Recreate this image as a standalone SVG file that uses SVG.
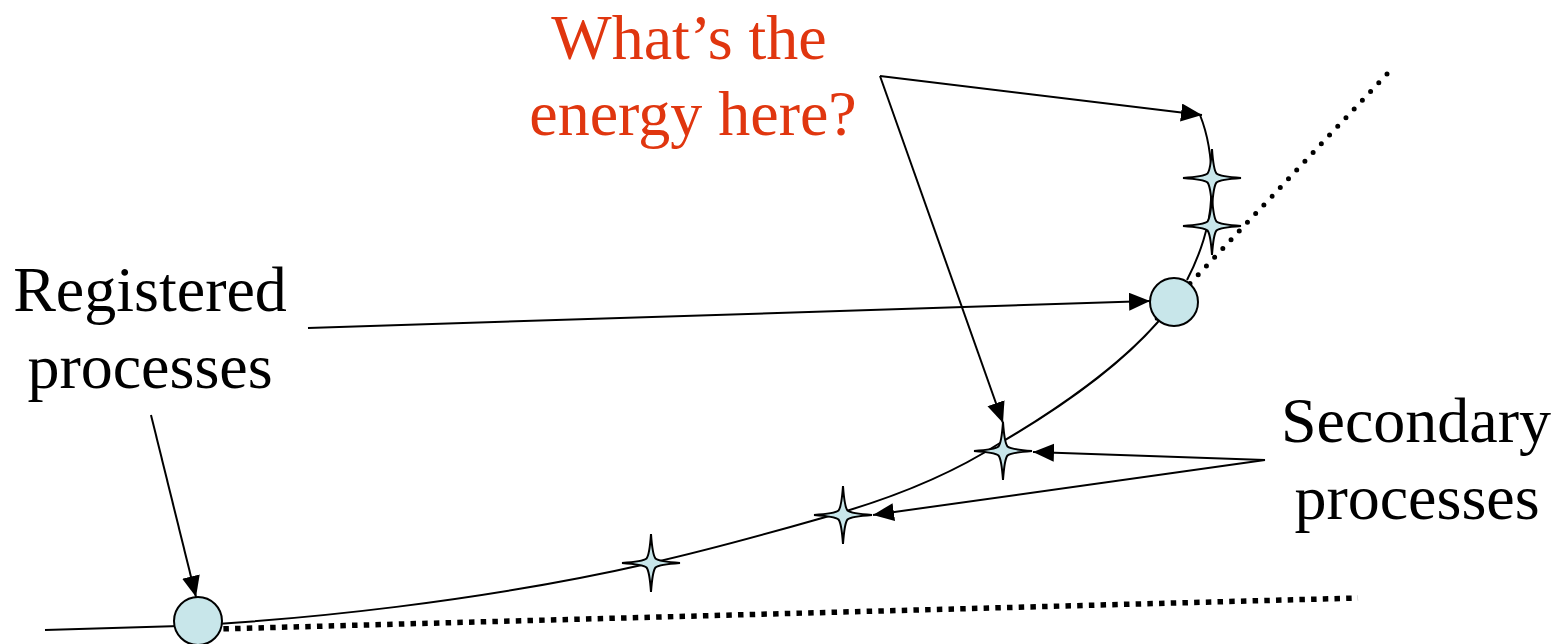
<svg xmlns="http://www.w3.org/2000/svg" width="1560" height="644" viewBox="0 0 1560 644">
<defs>
<style>
.lbl{font-family:"Liberation Serif","Times New Roman",serif;font-size:64px;text-anchor:middle;fill:#000}
.red{fill:#e0360f}
.curve{fill:none;stroke:#000;stroke-width:2}
.arrow{fill:none;stroke:#000;stroke-width:2;marker-end:url(#ah)}
.node{fill:#c8e6ea;stroke:#000;stroke-width:2}
.star{fill:#c8e6ea;stroke:#000;stroke-width:2;stroke-linejoin:miter}
</style>
<marker id="ah" markerUnits="userSpaceOnUse" markerWidth="22" markerHeight="20" refX="21" refY="9" orient="auto">
<path d="M0,0 L21,9 L0,18 Z" fill="#000"/>
</marker>
<path id="st" d="M0,-29 Q1.5,-8 4.5,-4.5 Q8,-1.5 29,0 Q8,1.5 4.5,4.5 Q1.5,8 0,29 Q-1.5,8 -4.5,4.5 Q-8,1.5 -29,0 Q-8,-1.5 -4.5,-4.5 Q-1.5,-8 0,-29 Z"/>
</defs>
<g id="dotted">
<line x1="200" y1="629.5" x2="1358" y2="598" stroke="#000" stroke-width="5.5" stroke-dasharray="5.5 6.2"/>
<line x1="1387" y1="74" x2="1149" y2="327" stroke="#000" stroke-width="5" stroke-linecap="round" stroke-dasharray="0 11.98"/>
</g>
<g id="curve">
<path class="curve" d="M45,630 L180,626 C300,620 480,602 651,563 C730,545 790,527 843,512 C900,495 955,472 1000,443 C1060,408 1120,365 1157,323 C1165,314 1170,308 1174,302"/>
<path class="curve" d="M1187,280 C1200,255 1210,225 1211,200 C1213,170 1210,140 1200,115"/>
</g>
<g id="connectors">
<line class="arrow" x1="880" y1="76" x2="1202" y2="115"/>
<line class="arrow" x1="880" y1="76" x2="1003" y2="423"/>
<line class="arrow" x1="308" y1="328" x2="1150" y2="301"/>
<line class="arrow" x1="151" y1="415" x2="196" y2="597"/>
<line class="arrow" x1="1265" y1="460" x2="1033" y2="452"/>
<line class="arrow" x1="1265" y1="460" x2="873" y2="515"/>
</g>
<g id="node-registered-1"><circle class="node" cx="198" cy="621" r="24"/></g>
<g id="node-registered-2"><circle class="node" cx="1174" cy="302" r="24"/></g>
<g id="star-1"><use href="#st" class="star" x="651" y="563"/></g>
<g id="star-2"><use href="#st" class="star" x="843" y="515"/></g>
<g id="star-3"><use href="#st" class="star" x="1003" y="451"/></g>
<g id="star-4"><use href="#st" class="star" x="1212" y="178"/></g>
<g id="star-5"><use href="#st" class="star" x="1212" y="226"/></g>
<g id="label-energy">
<text class="lbl red" x="689" y="59">What’s the</text>
<text class="lbl red" x="693" y="135">energy here?</text>
</g>
<g id="label-registered">
<text class="lbl" x="150" y="311">Registered</text>
<text class="lbl" x="150" y="388">processes</text>
</g>
<g id="label-secondary">
<text class="lbl" x="1416" y="442">Secondary</text>
<text class="lbl" x="1417" y="519">processes</text>
</g>
</svg>
